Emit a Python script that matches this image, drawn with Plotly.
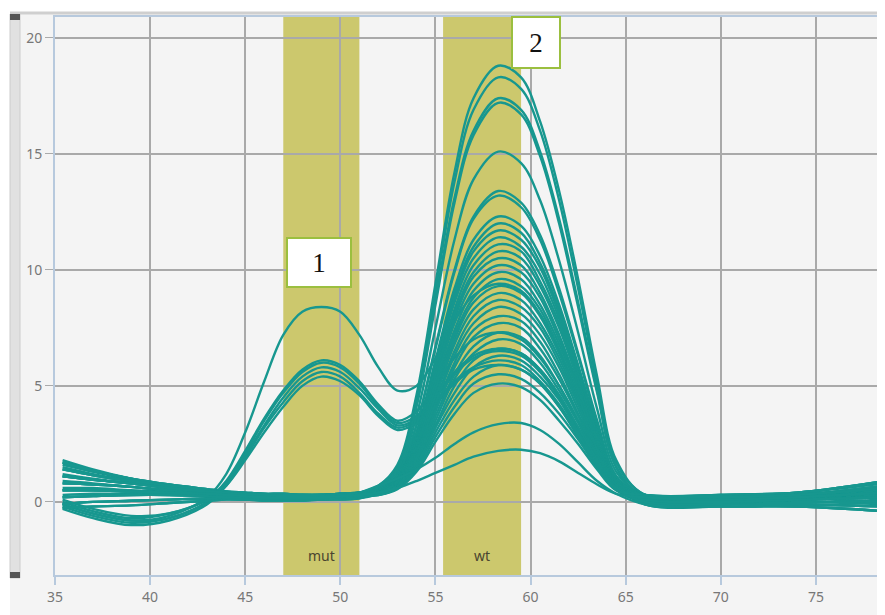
import plotly.graph_objects as go

# Temperature grid (degrees C) at which curve values were read
temps = [35.4, 37, 39, 41, 43, 44, 45, 46, 47, 48, 49, 50, 51, 52, 53, 54, 55,
         56, 57, 58.3, 59.5, 60.5, 61.5, 62.5, 63.5, 64.5, 66, 70, 74, 78.6]

# Heterozygous samples (mut peak + wt peak)
mut_het = [
    [-0.1, -0.5, -0.8, -0.6, 0.2, 1.2, 3.0, 5.2, 7.2, 8.2, 8.4, 8.2, 7.2, 5.8, 4.8, 5.0, 6.2, 7.8, 8.9, 9.4, 9.1, 8.1, 6.5, 4.5, 2.4, 0.8, 0.1, 0.0, 0.1, 0.2],
    [0.0, -0.4, -0.7, -0.5, 0.1, 0.9, 2.2, 3.6, 4.8, 5.7, 6.1, 5.9, 5.2, 4.2, 3.5, 3.9, 5.0, 6.2, 7.0, 7.3, 7.0, 6.2, 5.0, 3.5, 1.9, 0.7, 0.1, 0.1, 0.2, 0.4],
    [-0.2, -0.6, -0.9, -0.7, 0.0, 0.8, 2.1, 3.5, 4.7, 5.6, 6.0, 5.8, 5.1, 4.1, 3.4, 3.7, 4.6, 5.6, 6.3, 6.6, 6.4, 5.7, 4.6, 3.2, 1.8, 0.6, 0.0, 0.0, 0.0, 0.1],
    [0.1, -0.3, -0.6, -0.5, 0.1, 0.8, 2.0, 3.3, 4.5, 5.4, 5.8, 5.6, 4.9, 4.0, 3.3, 3.6, 4.5, 5.5, 6.2, 6.5, 6.3, 5.6, 4.5, 3.1, 1.7, 0.6, 0.1, 0.1, 0.2, 0.3],
    [-0.3, -0.7, -1.0, -0.8, -0.1, 0.7, 1.9, 3.2, 4.3, 5.2, 5.6, 5.4, 4.7, 3.8, 3.2, 3.5, 4.3, 5.2, 5.8, 6.1, 5.9, 5.2, 4.2, 2.9, 1.6, 0.55, 0.0, -0.1, 0.0, 0.0],
    [-0.1, -0.5, -0.8, -0.7, 0.0, 0.7, 1.8, 3.0, 4.1, 5.0, 5.4, 5.2, 4.6, 3.7, 3.1, 3.4, 4.2, 5.1, 5.7, 5.9, 5.7, 5.1, 4.1, 2.8, 1.5, 0.5, 0.0, 0.0, 0.1, 0.2],
]

# Wild-type samples, tall peaks
wt_high = [
    [1.8, 1.4, 1.0, 0.7, 0.5, 0.4, 0.35, 0.3, 0.3, 0.3, 0.3, 0.35, 0.4, 0.7, 1.6, 4.6, 9.4, 14.2, 17.4, 18.8, 18.3, 16.4, 13.4, 9.6, 5.4, 1.8, 0.3, 0.2, 0.3, 0.6],
    [1.2, 1.0, 0.8, 0.6, 0.45, 0.35, 0.3, 0.3, 0.25, 0.25, 0.3, 0.3, 0.4, 0.7, 1.5, 4.4, 9.1, 13.8, 16.9, 18.3, 17.8, 16.0, 13.0, 9.2, 5.1, 1.7, 0.3, 0.1, 0.2, 0.4],
    [0.6, 0.6, 0.5, 0.45, 0.4, 0.3, 0.3, 0.25, 0.25, 0.2, 0.25, 0.3, 0.35, 0.6, 1.4, 4.2, 8.7, 13.1, 16.0, 17.4, 16.9, 15.1, 12.2, 8.6, 4.8, 1.5, 0.2, 0.1, 0.1, 0.3],
    [1.5, 1.2, 0.9, 0.65, 0.5, 0.4, 0.3, 0.3, 0.3, 0.25, 0.3, 0.3, 0.4, 0.6, 1.4, 4.1, 8.5, 12.9, 15.8, 17.2, 16.7, 14.9, 12.0, 8.4, 4.7, 1.5, 0.2, 0.0, 0.0, -0.1],
    [0.9, 0.8, 0.65, 0.5, 0.4, 0.3, 0.25, 0.25, 0.2, 0.2, 0.25, 0.3, 0.35, 0.6, 1.3, 3.7, 7.5, 11.3, 13.9, 15.1, 14.6, 13.0, 10.4, 7.3, 4.0, 1.3, 0.2, 0.2, 0.3, 0.5],
    [0.3, 0.35, 0.35, 0.35, 0.3, 0.25, 0.2, 0.2, 0.2, 0.2, 0.2, 0.25, 0.3, 0.55, 1.2, 3.3, 6.7, 10.0, 12.3, 13.4, 12.9, 11.5, 9.2, 6.4, 3.5, 1.1, 0.1, 0.0, 0.1, 0.2],
    [1.6, 1.3, 0.95, 0.7, 0.5, 0.4, 0.35, 0.3, 0.3, 0.3, 0.3, 0.35, 0.4, 0.6, 1.2, 3.3, 6.6, 9.9, 12.2, 13.2, 12.7, 11.3, 9.0, 6.3, 3.4, 1.1, 0.2, 0.3, 0.4, 0.8],
]

# Wild-type samples, medium peaks
wt_mid = [
    [1.1, 0.95, 0.8, 0.6, 0.45, 0.4, 0.3, 0.3, 0.25, 0.25, 0.25, 0.3, 0.35, 0.55, 1.1, 3.0, 6.1, 9.2, 11.3, 12.3, 11.9, 10.6, 8.5, 5.9, 3.2, 1.1, 0.2, 0.1, 0.2, 0.4],
    [0.5, 0.5, 0.45, 0.4, 0.35, 0.3, 0.25, 0.2, 0.2, 0.2, 0.2, 0.25, 0.3, 0.5, 1.1, 2.9, 6.0, 9.0, 11.0, 12.0, 11.6, 10.3, 8.3, 5.8, 3.1, 1.0, 0.1, 0.0, 0.1, 0.2],
    [1.7, 1.35, 1.0, 0.75, 0.55, 0.45, 0.4, 0.35, 0.35, 0.3, 0.3, 0.35, 0.4, 0.5, 1.0, 2.9, 5.8, 8.8, 10.8, 11.7, 11.3, 10.1, 8.1, 5.6, 3.0, 1.0, 0.3, 0.3, 0.4, 0.9],
    [-0.1, 0.0, 0.05, 0.1, 0.15, 0.15, 0.1, 0.1, 0.1, 0.1, 0.1, 0.15, 0.2, 0.5, 1.0, 2.8, 5.7, 8.6, 10.5, 11.4, 11.0, 9.8, 7.9, 5.5, 3.0, 1.0, 0.0, -0.1, -0.1, -0.2],
    [0.8, 0.75, 0.65, 0.5, 0.4, 0.35, 0.3, 0.25, 0.25, 0.2, 0.25, 0.25, 0.3, 0.5, 1.0, 2.7, 5.5, 8.3, 10.2, 11.1, 10.8, 9.5, 7.7, 5.3, 2.9, 0.9, 0.3, 0.2, 0.3, 0.6],
    [1.4, 1.15, 0.9, 0.7, 0.5, 0.4, 0.35, 0.3, 0.3, 0.3, 0.3, 0.3, 0.35, 0.45, 1.0, 2.6, 5.4, 8.1, 9.9, 10.8, 10.5, 9.3, 7.5, 5.2, 2.8, 0.9, -0.1, -0.2, -0.2, -0.4],
    [0.2, 0.25, 0.3, 0.3, 0.25, 0.2, 0.2, 0.15, 0.15, 0.15, 0.15, 0.2, 0.25, 0.45, 0.95, 2.6, 5.2, 7.9, 9.7, 10.5, 10.2, 9.0, 7.2, 5.0, 2.7, 0.9, 0.2, 0.2, 0.3, 0.7],
    [-0.25, -0.2, -0.15, -0.05, 0.05, 0.1, 0.1, 0.05, 0.05, 0.05, 0.1, 0.1, 0.15, 0.45, 0.9, 2.5, 5.1, 7.7, 9.4, 10.2, 9.9, 8.8, 7.0, 4.9, 2.7, 0.9, 0.1, 0.0, 0.1, 0.2],
    [1.1, 0.95, 0.8, 0.6, 0.45, 0.4, 0.3, 0.3, 0.25, 0.25, 0.25, 0.3, 0.35, 0.45, 0.9, 2.4, 4.9, 7.4, 9.1, 9.9, 9.6, 8.5, 6.8, 4.8, 2.6, 0.85, 0.2, 0.1, 0.2, 0.4],
    [0.5, 0.5, 0.45, 0.4, 0.35, 0.3, 0.25, 0.2, 0.2, 0.2, 0.2, 0.25, 0.3, 0.4, 0.9, 2.4, 4.8, 7.2, 8.8, 9.6, 9.3, 8.3, 6.6, 4.6, 2.5, 0.85, 0.3, 0.2, 0.3, 0.6],
    [1.7, 1.35, 1.0, 0.75, 0.55, 0.45, 0.4, 0.35, 0.35, 0.3, 0.3, 0.35, 0.4, 0.4, 0.85, 2.3, 4.6, 7.0, 8.6, 9.3, 9.0, 8.0, 6.4, 4.5, 2.4, 0.8, 0.0, -0.1, -0.1, -0.2],
    [0.8, 0.75, 0.65, 0.5, 0.4, 0.35, 0.3, 0.25, 0.25, 0.2, 0.25, 0.25, 0.3, 0.4, 0.85, 2.2, 4.5, 6.8, 8.3, 9.0, 8.7, 7.7, 6.2, 4.3, 2.3, 0.8, 0.3, 0.3, 0.4, 0.9],
    [-0.1, 0.0, 0.05, 0.1, 0.15, 0.15, 0.1, 0.1, 0.1, 0.1, 0.1, 0.15, 0.2, 0.4, 0.8, 2.1, 4.3, 6.5, 8.0, 8.7, 8.4, 7.5, 6.0, 4.2, 2.3, 0.8, 0.2, 0.2, 0.3, 0.7],
    [1.4, 1.15, 0.9, 0.7, 0.5, 0.4, 0.35, 0.3, 0.3, 0.3, 0.3, 0.3, 0.35, 0.4, 0.8, 2.1, 4.2, 6.3, 7.7, 8.4, 8.1, 7.2, 5.8, 4.0, 2.2, 0.75, 0.1, 0.0, 0.1, 0.2],
    [0.2, 0.25, 0.3, 0.3, 0.25, 0.2, 0.2, 0.15, 0.15, 0.15, 0.15, 0.2, 0.25, 0.4, 0.75, 2.0, 4.0, 6.0, 7.4, 8.0, 7.8, 6.9, 5.5, 3.8, 2.1, 0.7, -0.1, -0.2, -0.2, -0.4],
    [1.1, 0.95, 0.8, 0.6, 0.45, 0.4, 0.3, 0.3, 0.25, 0.25, 0.25, 0.3, 0.35, 0.35, 0.75, 1.9, 3.9, 5.8, 7.1, 7.7, 7.5, 6.6, 5.3, 3.7, 2.0, 0.7, 0.2, 0.1, 0.2, 0.4],
    [-0.25, -0.2, -0.15, -0.05, 0.05, 0.1, 0.1, 0.05, 0.05, 0.05, 0.1, 0.1, 0.15, 0.35, 0.7, 1.8, 3.7, 5.5, 6.7, 7.3, 7.1, 6.3, 5.0, 3.5, 1.9, 0.7, 0.3, 0.2, 0.3, 0.6],
    [0.5, 0.5, 0.45, 0.4, 0.35, 0.3, 0.25, 0.2, 0.2, 0.2, 0.2, 0.25, 0.3, 0.35, 0.7, 1.7, 3.5, 5.3, 6.4, 7.0, 6.8, 6.0, 4.8, 3.4, 1.8, 0.65, 0.3, 0.3, 0.4, 0.9],
]

# Wild-type samples, low peaks
wt_low = [
    [1.7, 1.35, 1.0, 0.75, 0.55, 0.45, 0.4, 0.35, 0.35, 0.3, 0.3, 0.35, 0.4, 0.35, 0.65, 1.6, 3.3, 5.0, 6.1, 6.6, 6.4, 5.7, 4.6, 3.2, 1.8, 0.65, 0.2, 0.1, 0.2, 0.4],
    [0.8, 0.75, 0.65, 0.5, 0.4, 0.35, 0.3, 0.25, 0.25, 0.2, 0.25, 0.25, 0.3, 0.35, 0.65, 1.6, 3.2, 4.7, 5.8, 6.3, 6.1, 5.4, 4.4, 3.0, 1.7, 0.6, 0.1, 0.0, 0.1, 0.2],
    [-0.1, 0.0, 0.05, 0.1, 0.15, 0.15, 0.1, 0.1, 0.1, 0.1, 0.1, 0.15, 0.2, 0.3, 0.6, 1.5, 3.0, 4.4, 5.4, 5.9, 5.7, 5.1, 4.1, 2.9, 1.6, 0.6, 0.2, 0.2, 0.3, 0.7],
    [1.4, 1.15, 0.9, 0.7, 0.5, 0.4, 0.35, 0.3, 0.3, 0.3, 0.3, 0.3, 0.35, 0.3, 0.6, 1.4, 2.8, 4.1, 5.1, 5.5, 5.3, 4.7, 3.8, 2.7, 1.5, 0.55, 0.0, -0.1, -0.1, -0.2],
    [0.2, 0.25, 0.3, 0.3, 0.25, 0.2, 0.2, 0.15, 0.15, 0.15, 0.15, 0.2, 0.25, 0.3, 0.55, 1.3, 2.6, 3.8, 4.7, 5.1, 4.95, 4.4, 3.5, 2.5, 1.4, 0.5, 0.3, 0.2, 0.3, 0.6],
    [1.1, 0.95, 0.8, 0.6, 0.45, 0.4, 0.3, 0.3, 0.25, 0.25, 0.25, 0.3, 0.4, 0.7, 1.0, 1.4, 1.9, 2.5, 3.0, 3.35, 3.4, 3.1, 2.5, 1.7, 0.9, 0.35, -0.1, -0.2, -0.2, -0.4],
    [0.5, 0.5, 0.45, 0.4, 0.35, 0.3, 0.25, 0.2, 0.2, 0.2, 0.2, 0.25, 0.3, 0.4, 0.6, 0.9, 1.25, 1.6, 1.95, 2.2, 2.25, 2.1, 1.75, 1.25, 0.75, 0.35, 0.2, 0.1, 0.2, 0.4],
]

# Highlighted temperature windows
band_names = ["mut", "wt"]
band_starts = [47.0, 55.4]
band_ends = [51.0, 59.5]

# Numbered callouts
callout_texts = ["1", "2"]
callout_x = [48.88, 60.28]
callout_y = [10.32, 19.8]

x_ticks = [35, 40, 45, 50, 55, 60, 65, 70, 75]
y_ticks = [0, 5, 10, 15, 20]

TEAL = "#17978f"
BAND = "#ccc86d"

# the page body has an 8px default margin; the figure is sized to end at 885x615
OFF = 8
FIG_W, FIG_H = 885 - OFF, 615 - OFF

fig = go.Figure()
for row in mut_het + wt_high + wt_mid + wt_low:
    fig.add_trace(go.Scatter(x=temps, y=row, mode="lines",
                             line=dict(color=TEAL, width=2.4, shape="spline", smoothing=1.0),
                             hoverinfo="skip", showlegend=False))

# page pixel -> paper fraction (plot area spans page x 55..885, y 17..575)
def px_x(p):
    return (p - 55) / 830.0

def px_y(p):
    return (575 - p) / 558.0

shapes = [
    dict(type="rect", xref="paper", yref="paper", x0=px_x(10), x1=1.0, y0=px_y(615), y1=px_y(12),
         fillcolor="#f4f4f4", line=dict(width=0), layer="below"),
    dict(type="line", xref="paper", yref="paper", x0=px_x(10), x1=1.0, y0=px_y(13), y1=px_y(13),
         line=dict(color="#cfcfcf", width=3), layer="below"),
    dict(type="rect", xref="paper", yref="paper", x0=px_x(10), x1=px_x(20), y0=px_y(578), y1=px_y(14),
         fillcolor="#e1e1e1", line=dict(color="#cccccc", width=1), layer="below"),
    dict(type="rect", xref="paper", yref="paper", x0=px_x(10), x1=px_x(20), y0=px_y(20), y1=px_y(14),
         fillcolor="#555555", line=dict(width=0), layer="below"),
    dict(type="rect", xref="paper", yref="paper", x0=px_x(10), x1=px_x(20), y0=px_y(578), y1=px_y(572),
         fillcolor="#555555", line=dict(width=0), layer="below"),
]
for s, e in zip(band_starts, band_ends):
    shapes.append(dict(type="rect", xref="x", yref="paper", x0=s, x1=e, y0=0, y1=1,
                       fillcolor=BAND, line=dict(width=0), layer="below"))

annotations = []
for name, s, e in zip(band_names, band_starts, band_ends):
    annotations.append(dict(x=(s + e) / 2, y=-2.3, xref="x", yref="y", text=name, showarrow=False,
                            font=dict(family="Noto Sans", size=14, color="#4a4530")))
for t, x, y in zip(callout_texts, callout_x, callout_y):
    w, h = (60, 45) if t == "1" else (44, 47)
    annotations.append(dict(x=x, y=y, xref="x", yref="y", text=t, showarrow=False,
                            font=dict(family="Liberation Serif", size=27, color="#111111"),
                            bgcolor="white", bordercolor="#9bbf3f", borderwidth=2, borderpad=1,
                            width=w, height=h, align="center", valign="middle"))

fig.update_layout(
    width=FIG_W, height=FIG_H,
    margin=dict(l=55 - OFF, r=0, t=17 - OFF, b=40),
    paper_bgcolor="white", plot_bgcolor="#f4f4f4",
    shapes=shapes, annotations=annotations,
    font=dict(family="Noto Sans", size=13, color="#777777"),
)
fig.update_xaxes(range=[35, 78.63], tickvals=x_ticks, ticktext=[str(v) for v in x_ticks],
                 showgrid=True, gridcolor="#a9a9a9", gridwidth=1.5, zeroline=False,
                 showline=True, linecolor="#b7c9dd", linewidth=2, mirror=True,
                 ticks="outside", ticklen=8, tickcolor="#b7c9dd", tickwidth=1.5,
                 tickfont=dict(size=14, color="#777777"))
fig.update_yaxes(range=[-3.15, 20.9], tickvals=y_ticks, ticktext=[str(v) for v in y_ticks],
                 showgrid=True, gridcolor="#a9a9a9", gridwidth=1.5, zeroline=False,
                 showline=True, linecolor="#b7c9dd", linewidth=2,
                 ticks="outside", ticklen=8, tickcolor="#aaaaaa", tickwidth=1,
                 tickfont=dict(size=14, color="#777777"))

fig.write_html("out.html")
